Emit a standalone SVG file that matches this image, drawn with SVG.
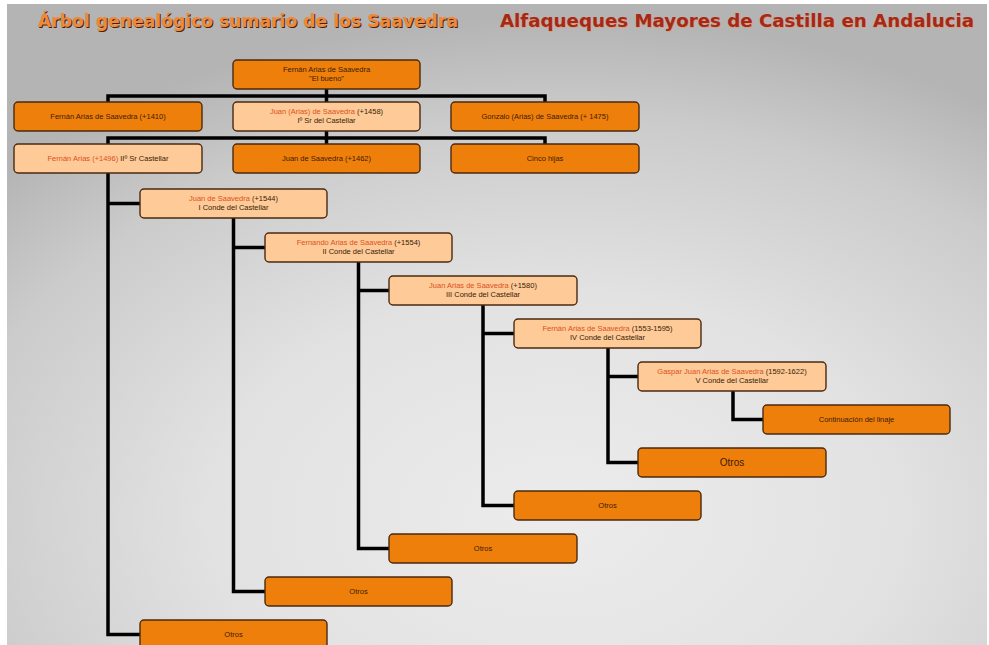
<svg xmlns="http://www.w3.org/2000/svg" width="989" height="645" viewBox="0 0 989 645">
<defs>
<radialGradient id="bg" cx="0.56" cy="0.8" r="0.78" fx="0.56" fy="0.8">
<stop offset="0" stop-color="#ececec"/>
<stop offset="0.45" stop-color="#e2e2e2"/>
<stop offset="0.8" stop-color="#cbcbcb"/>
<stop offset="1" stop-color="#b4b4b4"/>
</radialGradient>
<style>
.box{stroke:#4a2a10;stroke-width:1.4}
.dk{fill:#ef7f0b}
.lt{fill:#fdca98}
.t{font-family:"Liberation Sans",Arial,sans-serif;font-size:7.5px;fill:#3a1c05;text-anchor:middle}
.r{fill:#e0501a}
.big{font-size:10px}
.con{fill:none;stroke:#000;stroke-width:3.5;stroke-linejoin:miter}
.title{font-family:"DejaVu Sans",Verdana,sans-serif;font-weight:bold;font-size:18px}
</style>
</defs>
<rect x="0" y="0" width="989" height="645" fill="#ffffff"/>
<rect x="7" y="4" width="980" height="641" fill="url(#bg)"/>

<g id="title">
<text class="title" x="39" y="28" fill="#4a2000" textLength="420" lengthAdjust="spacingAndGlyphs">Árbol genealógico sumario de los Saavedra</text>
<text class="title" x="38" y="27" fill="#f0883a" textLength="420" lengthAdjust="spacingAndGlyphs">Árbol genealógico sumario de los Saavedra</text>
<text class="title" x="501" y="28" fill="#f09050" opacity="0.6" textLength="474" lengthAdjust="spacingAndGlyphs">Alfaqueques Mayores de Castilla en Andalucia</text>
<text class="title" x="500" y="27" fill="#a82818" textLength="474" lengthAdjust="spacingAndGlyphs">Alfaqueques Mayores de Castilla en Andalucia</text>
</g>

<g id="connectors" class="con">
<path d="M326.5 89V96M108 102V96H545V102M326.5 96V102"/>
<path d="M326.5 131V138M108 144V138H545V144M326.5 138V144"/>
<path d="M108 173V634.5H140M108 203.5H140"/>
<path d="M233.5 218V591.5H265M233.5 247.5H265"/>
<path d="M358.5 262V548.5H389M358.5 290.5H389"/>
<path d="M483 305V505.5H514M483 333.5H514"/>
<path d="M608 348V462.5H638M608 376.5H638"/>
<path d="M733 391V419.5H763"/>
</g>

<g id="n1"><rect class="box dk" x="233" y="60" width="187" height="29" rx="4"/>
<text class="t" x="326.5" y="72">Fernán Arias de Saavedra</text><text class="t" x="326.5" y="81">"El bueno"</text></g>

<g id="n2"><rect class="box dk" x="14" y="102" width="188" height="29" rx="4"/>
<text class="t" x="108" y="119">Fernán Arias de Saavedra (+1410)</text></g>

<g id="n3"><rect class="box lt" x="233" y="102" width="187" height="29" rx="4"/>
<text class="t" x="326.5" y="114"><tspan class="r">Juan (Arias) de Saavedra</tspan> (+1458)</text><text class="t" x="326.5" y="123">Iº Sr del Castellar</text></g>

<g id="n4"><rect class="box dk" x="451" y="102" width="188" height="29" rx="4"/>
<text class="t" x="545" y="119">Gonzalo  (Arias) de Saavedra (+ 1475)</text></g>

<g id="n5"><rect class="box lt" x="14" y="144" width="188" height="29" rx="4"/>
<text class="t" x="108" y="161"><tspan class="r">Fernán Arias (+1496)</tspan> IIº Sr Castellar</text></g>

<g id="n6"><rect class="box dk" x="233" y="144" width="187" height="29" rx="4"/>
<text class="t" x="326.5" y="161">Juan de Saavedra (+1462)</text></g>

<g id="n7"><rect class="box dk" x="451" y="144" width="188" height="29" rx="4"/>
<text class="t" x="545" y="161">Cinco hijas</text></g>

<g id="n8"><rect class="box lt" x="140" y="189" width="187" height="29" rx="4"/>
<text class="t" x="233.5" y="201"><tspan class="r">Juan de Saavedra</tspan> (+1544)</text><text class="t" x="233.5" y="210">I Conde del Castellar</text></g>

<g id="n9"><rect class="box lt" x="265" y="233" width="187" height="29" rx="4"/>
<text class="t" x="358.5" y="245"><tspan class="r">Fernando Arias de Saavedra</tspan> (+1554)</text><text class="t" x="358.5" y="254">II Conde del Castellar</text></g>

<g id="n10"><rect class="box lt" x="389" y="276" width="188" height="29" rx="4"/>
<text class="t" x="483" y="288"><tspan class="r">Juan Arias de Saavedra</tspan>  (+1580)</text><text class="t" x="483" y="297">III Conde del Castellar</text></g>

<g id="n11"><rect class="box lt" x="514" y="319" width="187" height="29" rx="4"/>
<text class="t" x="607.5" y="331"><tspan class="r">Fernán Arias de Saavedra</tspan> (1553-1595)</text><text class="t" x="607.5" y="340">IV Conde del Castellar</text></g>

<g id="n12"><rect class="box lt" x="638" y="362" width="188" height="29" rx="4"/>
<text class="t" x="732" y="374"><tspan class="r">Gaspar Juan Arias de Saavedra</tspan> (1592-1622)</text><text class="t" x="732" y="383">V Conde del Castellar</text></g>

<g id="n13"><rect class="box dk" x="763" y="405" width="187" height="29" rx="4"/>
<text class="t" x="856.5" y="422">Continuación del linaje</text></g>

<g id="n14"><rect class="box dk" x="638" y="448" width="188" height="29" rx="4"/>
<text class="t big" x="732" y="466">Otros</text></g>

<g id="n15"><rect class="box dk" x="514" y="491" width="187" height="29" rx="4"/>
<text class="t" x="607.5" y="508">Otros</text></g>

<g id="n16"><rect class="box dk" x="389" y="534" width="188" height="29" rx="4"/>
<text class="t" x="483" y="551">Otros</text></g>

<g id="n17"><rect class="box dk" x="265" y="577" width="187" height="29" rx="4"/>
<text class="t" x="358.5" y="594">Otros</text></g>

<g id="n18"><rect class="box dk" x="140" y="620" width="187" height="29" rx="4"/>
<text class="t" x="233.5" y="637">Otros</text></g>
</svg>
